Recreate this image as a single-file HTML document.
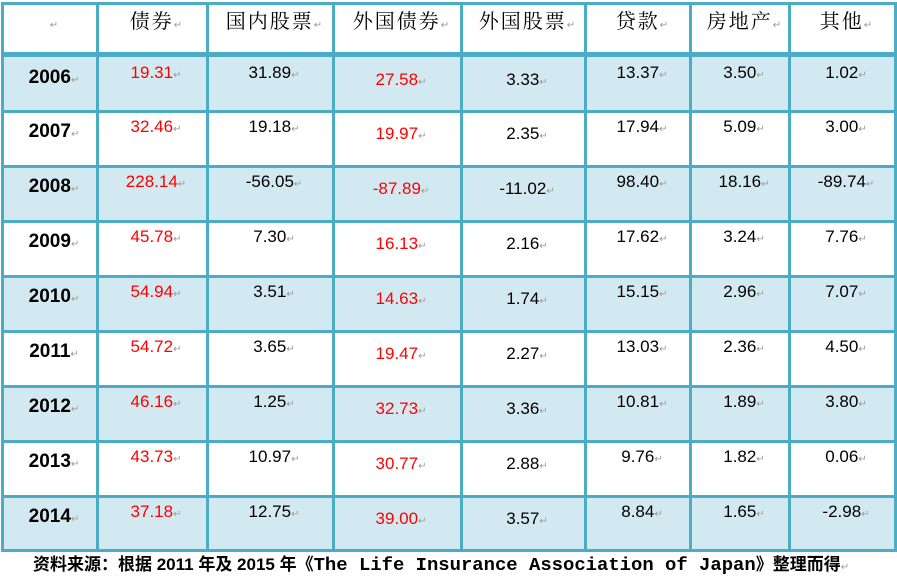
<!DOCTYPE html><html><head><meta charset="utf-8"><style>
body{margin:0;width:897px;height:577px;background:#fff;position:relative;overflow:hidden;font-family:"Liberation Sans","Noto Sans CJK SC",sans-serif}
.l{position:absolute;background:#4bacc6}
.bg{position:absolute;background:#d3e9f1}
.t{position:absolute;font-size:17px;white-space:nowrap;transform:translateX(-50%);line-height:20px}
.r{color:#f00}
.y{font-weight:bold;font-size:19px}
.h{font-family:"Noto Serif CJK SC",serif;font-size:20px;letter-spacing:2px}
.m{color:#999;font-size:10px;font-weight:normal;letter-spacing:0}
.cap{position:absolute;left:33px;top:554px;font-weight:bold;font-size:17px;white-space:nowrap;line-height:22px}
.mono{font-family:"Liberation Mono",monospace;font-size:18.9px}
</style></head><body>
<div id="g"></div>
<div class="cap">资料来源：根据 2011 年及 2015 年《<span class="mono">The Life Insurance Association of Japan</span>》整理而得<span class="m">↵</span></div>
<script>
var g=document.getElementById('g'),h='';
var rows=[57,111,166,221,276,331,386,441,496,550];
var cols=[2,97,207,333,461,585,690,789,895];
for(var i=0;i<9;i++){if(i%2==0)h+='<div class="bg" style="left:2px;width:893px;top:'+rows[i]+'px;height:'+(rows[i+1]-rows[i])+'px"></div>';}
h+='<div class="l" style="left:2px;width:893px;top:2px;height:3px"></div>';
h+='<div class="l" style="left:2px;width:893px;top:52px;height:5px"></div>';
for(var i=1;i<10;i++)h+='<div class="l" style="left:2px;width:893px;top:'+(rows[i]-1)+'px;height:3px"></div>';
for(var j=0;j<9;j++)h+='<div class="l" style="left:'+(cols[j]-1)+'px;width:3px;top:2px;height:550px"></div>';
var cx=[50,152,270,397,523,638,740,842];
var hd=['','债券','国内股票','外国债券','外国股票','贷款','房地产','其他'];
for(var j=0;j<8;j++)h+='<div class="t h" style="left:'+(cx[j]+4)+'px;top:10px">'+hd[j]+'<span class="m">↵</span></div>';
var d=[['2006','19.31','31.89','27.58','3.33','13.37','3.50','1.02'],
['2007','32.46','19.18','19.97','2.35','17.94','5.09','3.00'],
['2008','228.14','-56.05','-87.89','-11.02','98.40','18.16','-89.74'],
['2009','45.78','7.30','16.13','2.16','17.62','3.24','7.76'],
['2010','54.94','3.51','14.63','1.74','15.15','2.96','7.07'],
['2011','54.72','3.65','19.47','2.27','13.03','2.36','4.50'],
['2012','46.16','1.25','32.73','3.36','10.81','1.89','3.80'],
['2013','43.73','10.97','30.77','2.88','9.76','1.82','0.06'],
['2014','37.18','12.75','39.00','3.57','8.84','1.65','-2.98']];
var off=[11,6,6,13,13,6,6,6];
for(var i=0;i<9;i++)for(var j=0;j<8;j++){
var c=(j==0?'y':'')+((j==1||j==3)?' r':'');
h+='<div class="t '+c+'" style="left:'+(cx[j]+4)+'px;top:'+(rows[i]+off[j])+'px">'+d[i][j]+'<span class="m">↵</span></div>';}
g.innerHTML=h;
</script>
</body></html>
